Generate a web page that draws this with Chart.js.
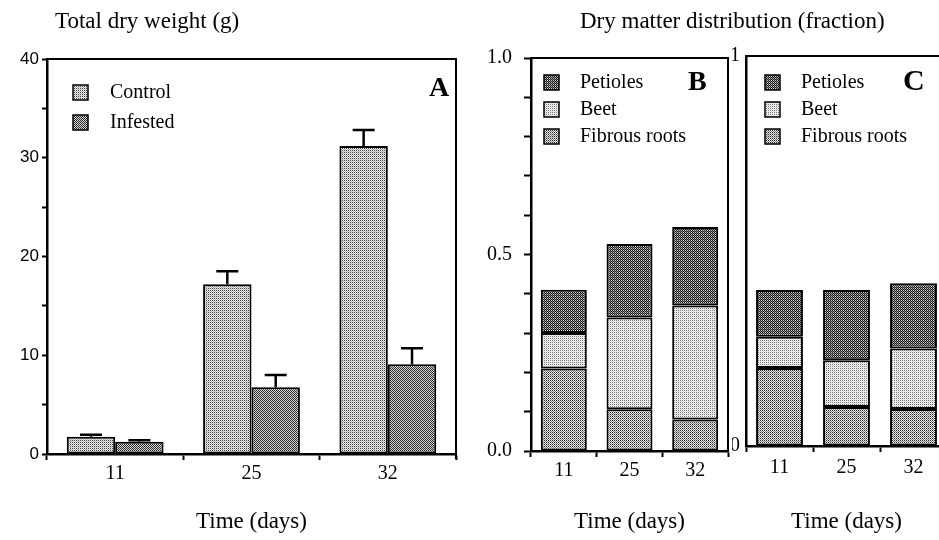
<!DOCTYPE html>
<html><head><meta charset="utf-8">
<script src="https://cdn.jsdelivr.net/npm/chart.js@4.4.1/dist/chart.umd.min.js"></script>
<style>
html,body{margin:0;padding:0;width:939px;height:540px;overflow:hidden;background:#fff;}
canvas{position:absolute;top:0;}
.hdr{position:absolute;font-family:"Liberation Serif",serif;font-size:23px;line-height:23px;color:#000;white-space:nowrap;z-index:2;}
.let{position:absolute;font-family:"Liberation Serif",serif;font-weight:bold;color:#000;line-height:1;z-index:2;}
</style></head><body>
<canvas id="cA" width="470" height="540" style="left:0px"></canvas>
<canvas id="cB" width="262" height="540" style="left:470px"></canvas>
<canvas id="cC" width="240" height="540" style="left:732px"></canvas>
<div class="hdr" style="left:55px;top:9px">Total dry weight (g)</div>
<div class="hdr" style="left:580px;top:9px">Dry matter distribution (fraction)</div>
<div class="let" style="left:429px;top:73px;font-size:28px">A</div>
<div class="let" style="left:688px;top:67px;font-size:28px">B</div>
<div class="let" style="left:903px;top:65px;font-size:30px">C</div>
<script>
// ---------- data ----------
const categories = ['11', '25', '32'];
const controlWeight = [1.75, 17.2, 31.2];
const controlErr = [0.2, 1.3, 1.6];
const infestedWeight = [1.25, 6.75, 9.1];
const infestedErr = [0.15, 1.25, 1.6];
const weightTickLabels = [0, 10, 20, 30, 40];

const ctrlFibrous = [0.21, 0.106, 0.08];
const ctrlBeet = [0.09, 0.234, 0.29];
const ctrlPetioles = [0.11, 0.187, 0.20];

const infFibrous = [0.20, 0.10, 0.095];
const infBeet = [0.08, 0.12, 0.155];
const infPetioles = [0.12, 0.18, 0.167];

const fracTickValuesB = [0, 0.5, 1];
const fracTickLabelsB = ['0.0', '0.5', '1.0'];
const fracTickValuesC = [0, 1];
const fracTickLabelsC = ['0', '1'];

// ---------- stipple patterns ----------
function makePattern(c00, c10, c01, c11) {
  const cv = document.createElement('canvas');
  cv.width = 2; cv.height = 2;
  const g = cv.getContext('2d');
  g.fillStyle = c00; g.fillRect(0, 0, 1, 1);
  g.fillStyle = c10; g.fillRect(1, 0, 1, 1);
  g.fillStyle = c01; g.fillRect(0, 1, 1, 1);
  g.fillStyle = c11; g.fillRect(1, 1, 1, 1);
  return g.createPattern(cv, 'repeat');
}
const pControl = makePattern('#404040', '#f0f0f0', '#f0f0f0', '#b0b0b0');
const pInfested = makePattern('#202020', '#d8d8d8', '#d8d8d8', '#303030');
const pPetioles = makePattern('#181818', '#d0d0d0', '#808080', '#181818');
const pBeet = makePattern('#707070', '#f8f8f8', '#f8f8f8', '#d8d8d8');
const pFibrous = makePattern('#282828', '#e8e8e8', '#e8e8e8', '#808080');

// ---------- plugins ----------
const errorBars = {
  id: 'errorBars',
  afterDatasetsDraw(chart) {
    const ctx = chart.ctx, ys = chart.scales.y;
    chart.data.datasets.forEach((ds, i) => {
      if (!ds.errors) return;
      chart.getDatasetMeta(i).data.forEach((bar, j) => {
        const top = ys.getPixelForValue(ds.data[j] + ds.errors[j]);
        ctx.save();
        ctx.strokeStyle = '#000'; ctx.lineWidth = 2.5;
        ctx.beginPath();
        ctx.moveTo(bar.x, bar.y); ctx.lineTo(bar.x, top);
        ctx.moveTo(bar.x - 11, top); ctx.lineTo(bar.x + 11, top);
        ctx.stroke();
        ctx.restore();
      });
    });
  }
};
const frame = {
  id: 'frame',
  afterDraw(chart, args, opts) {
    const { left, top, right, bottom } = chart.chartArea;
    const ctx = chart.ctx;
    ctx.save();
    ctx.strokeStyle = '#000'; ctx.lineWidth = opts.width || 2;
    ctx.beginPath();
    ctx.moveTo(left, top); ctx.lineTo(right, top); ctx.lineTo(right, bottom + (opts.tail || 0));
    ctx.stroke();
    ctx.restore();
  }
};
const boxLegend = {
  id: 'boxLegend',
  afterDraw(chart, args, opts) {
    const ctx = chart.ctx;
    ctx.save();
    opts.order.forEach((di, k) => {
      const ds = chart.data.datasets[di];
      const y0 = opts.y + k * opts.gap;
      ctx.fillStyle = ds.backgroundColor;
      ctx.fillRect(opts.x, y0, 15, 15);
      ctx.lineWidth = 1.5; ctx.strokeStyle = '#000';
      ctx.strokeRect(opts.x, y0, 15, 15);
      ctx.fillStyle = '#000';
      ctx.font = '20px "Liberation Serif"';
      ctx.textBaseline = 'middle';
      ctx.fillText(ds.label, opts.textX, y0 + 8);
    });
    ctx.restore();
  }
};

const serif = 'Liberation Serif';
function xScale(h, pad) {
  return {
    grid: { display: true, drawOnChartArea: false, drawTicks: true, tickLength: 6, tickWidth: 2, color: '#000', offset: true },
    border: { display: true, color: '#000', width: 2.5 },
    ticks: { font: { family: serif, size: 20 }, color: '#000', padding: pad },
    title: { display: true, text: 'Time (days)', font: { family: serif, size: 23 }, color: '#000', padding: { top: 0, bottom: 4 } },
    afterFit(s) { s.height = h; }
  };
}
function labelFrom(values, labels) {
  return v => {
    const i = values.findIndex(t => Math.abs(t - v) < 1e-9);
    return i >= 0 ? labels[i] : '';
  };
}
const common = {
  responsive: false, animation: false, devicePixelRatio: 1,
};

// ---------- Panel A ----------
new Chart(document.getElementById('cA'), {
  type: 'bar',
  data: {
    labels: categories,
    datasets: [
      { label: 'Control', data: controlWeight, errors: controlErr, backgroundColor: pControl, borderColor: '#000', borderWidth: 2, borderSkipped: false },
      { label: 'Infested', data: infestedWeight, errors: infestedErr, backgroundColor: pInfested, borderColor: '#000', borderWidth: 2, borderSkipped: false }
    ]
  },
  options: Object.assign({}, common, {
    layout: { padding: { left: 0, top: 59, right: 14, bottom: 0 } },
    datasets: { bar: { categoryPercentage: 0.71, barPercentage: 1.0 } },
    plugins: { legend: { display: false }, tooltip: { enabled: false },
      boxLegend: { x: 73, y: 85, gap: 30, textX: 110, order: [0, 1] },
      frame: { width: 2, tail: 5 } },
    scales: {
      x: xScale(86, 2),
      y: {
        min: 0, max: 40,
        ticks: { stepSize: 5, callback: v => weightTickLabels.includes(v) ? String(v) : '', font: { family: 'Liberation Sans', size: 17 }, color: '#000', padding: 3 },
        grid: { drawOnChartArea: false, drawTicks: true, tickLength: 5, tickWidth: 2, color: '#000' },
        border: { display: true, color: '#000', width: 2.5 },
        afterFit(s) { s.width = 47; }
      }
    }
  }),
  plugins: [errorBars, frame, boxLegend]
});

// ---------- stacked panels ----------
function stacked(id, fib, beet, pet, opts) {
  return new Chart(document.getElementById(id), {
    type: 'bar',
    data: {
      labels: categories,
      datasets: [
        { label: 'Fibrous roots', data: fib, backgroundColor: pFibrous, borderColor: '#000', borderWidth: 2, borderSkipped: false },
        { label: 'Beet', data: beet, backgroundColor: pBeet, borderColor: '#000', borderWidth: 2, borderSkipped: false },
        { label: 'Petioles', data: pet, backgroundColor: pPetioles, borderColor: '#000', borderWidth: 2, borderSkipped: false }
      ]
    },
    options: Object.assign({}, common, {
      layout: { padding: opts.padding },
      datasets: { bar: { categoryPercentage: 0.7, barPercentage: 1.0 } },
      plugins: { legend: { display: false }, tooltip: { enabled: false },
        boxLegend: { x: opts.legX, y: 75, gap: 27, textX: opts.legX + 36, order: [2, 1, 0] },
        frame: { width: 2, tail: 0 } },
      scales: {
        x: Object.assign(xScale(opts.xh, opts.xpad), { stacked: true }),
        y: {
          stacked: true, min: 0, max: 1,
          ticks: { stepSize: opts.step, callback: labelFrom(opts.tv, opts.tl), font: { family: serif, size: 20 }, color: '#000', padding: opts.ypad },
          grid: { drawOnChartArea: false, drawTicks: opts.yticks, tickLength: 7, tickWidth: 2, color: '#000' },
          border: { display: true, color: '#000', width: 2.5 },
          afterFit(s) { s.width = opts.yw; }
        }
      }
    }),
    plugins: [frame, boxLegend]
  });
}
stacked('cB', ctrlFibrous, ctrlBeet, ctrlPetioles, {
  padding: { left: 0, top: 58, right: 4, bottom: 0 }, xh: 89, xpad: 1.5, yw: 61,
  step: 0.1, tv: fracTickValuesB, tl: fracTickLabelsB, ypad: 12, yticks: true, legX: 74
});
stacked('cC', infFibrous, infBeet, infPetioles, {
  padding: { left: 0, top: 56, right: 25, bottom: 0 }, xh: 94, xpad: 3.5, yw: 14,
  step: 1, tv: fracTickValuesC, tl: fracTickLabelsC, ypad: 6, yticks: false, legX: 33
});
</script>
</body></html>
